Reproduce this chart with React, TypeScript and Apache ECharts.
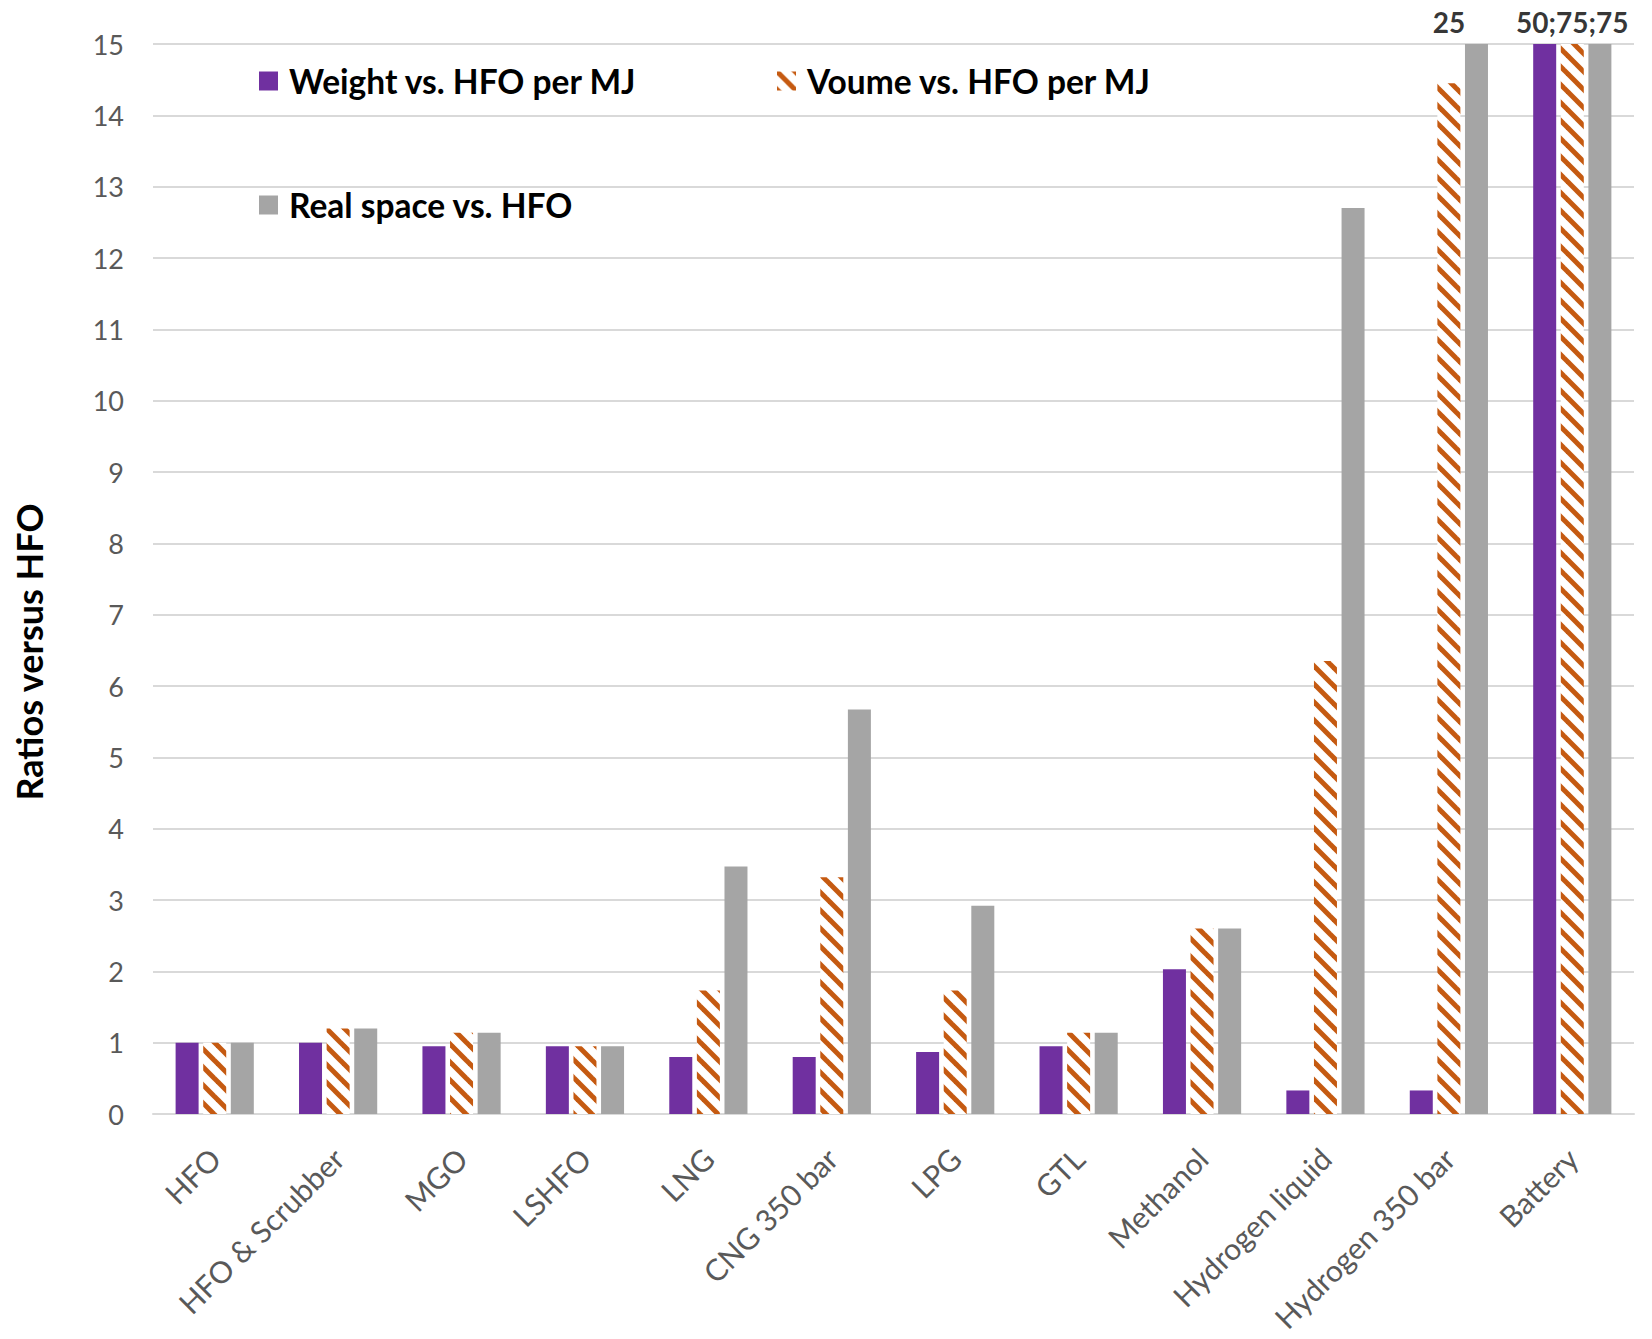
import React, { useEffect, useRef } from "react";
import * as echarts from "echarts";

// Fuel categories on the x axis
const categories = [
  "HFO",
  "HFO & Scrubber",
  "MGO",
  "LSHFO",
  "LNG",
  "CNG 350 bar",
  "LPG",
  "GTL",
  "Methanol",
  "Hydrogen liquid",
  "Hydrogen 350 bar",
  "Battery",
];

const seriesNames = [
  "Weight vs. HFO per MJ",
  "Voume vs. HFO per MJ",
  "Real space vs. HFO",
];

// Ratios versus HFO
const weightVsHfo = [1, 1, 0.95, 0.95, 0.8, 0.8, 0.87, 0.95, 2.03, 0.33, 0.33, 50];
const volumeVsHfo = [1, 1.2, 1.14, 0.95, 1.73, 3.32, 1.73, 1.14, 2.6, 6.35, 14.45, 75];
const realSpaceVsHfo = [1, 1.2, 1.14, 0.95, 3.47, 5.67, 2.92, 1.14, 2.6, 12.7, 25, 75];

// Value axis range
const yMin = 0;
const yMax = 15;
const yInterval = 1;

const FONT = "Lato";
const PURPLE = "#7030A0";
const ORANGE = "#C55A11";
const GREY = "#A5A5A5";
const LABEL_GREY = "#595959";
const GRID_GREY = "#D9D9D9";

function makeHatch(): HTMLCanvasElement {
  const s = 18;
  const c = document.createElement("canvas");
  c.width = s;
  c.height = s;
  const ctx = c.getContext("2d")!;
  ctx.fillStyle = "#ffffff";
  ctx.fillRect(0, 0, s, s);
  ctx.strokeStyle = ORANGE;
  ctx.lineWidth = 5;
  ctx.lineCap = "butt";
  for (const off of [-s, 0, s]) {
    ctx.beginPath();
    ctx.moveTo(off - 2, -2);
    ctx.lineTo(off + s + 2, s + 2);
    ctx.stroke();
  }
  return c;
}

export default function App() {
  const ref = useRef<HTMLDivElement>(null);

  useEffect(() => {
    if (!ref.current) return;
    const chart = echarts.init(ref.current, undefined, { renderer: "svg" });
    const hatch = makeHatch();

    // Values beyond the axis maximum are written above their category
    const overflow = categories.map((c, i) => {
      const vals = [weightVsHfo[i], volumeVsHfo[i], realSpaceVsHfo[i]].filter(
        (v) => v > yMax
      );
      return vals.length ? { value: [c, yMax], text: vals.join(";") } : null;
    });
    const overflowData = overflow.filter((d) => d !== null) as {
      value: [string, number];
      text: string;
    }[];

    const legendBase = {
      orient: "horizontal" as const,
      padding: 0,
      itemWidth: 19,
      itemHeight: 19,
      icon: "rect",
      selectedMode: false,
      textStyle: {
        fontFamily: FONT,
        fontWeight: "bold" as const,
        fontSize: 33.5,
        color: "#000",
        padding: [0, 0, 0, 6],
      },
    };

    chart.setOption({
      animation: false,
      backgroundColor: "#ffffff",
      textStyle: { fontFamily: FONT },
      grid: { left: 153, right: 18, top: 44, bottom: 225, containLabel: false },
      legend: [
        { ...legendBase, left: 259, top: 64, data: [seriesNames[0]] },
        { ...legendBase, left: 777, top: 64, data: [seriesNames[1]] },
        { ...legendBase, left: 259, top: 188, data: [seriesNames[2]] },
      ],
      xAxis: {
        type: "category",
        data: categories,
        axisTick: { show: false },
        axisLine: { lineStyle: { color: GRID_GREY, width: 2 } },
        axisLabel: {
          rotate: 45,
          interval: 0,
          margin: 39,
          fontFamily: FONT,
          fontSize: 30,
          color: LABEL_GREY,
        },
      },
      yAxis: {
        type: "value",
        min: yMin,
        max: yMax,
        interval: yInterval,
        axisLine: { show: false },
        axisTick: { show: false },
        splitLine: { lineStyle: { color: GRID_GREY, width: 2 } },
        axisLabel: {
          margin: 29,
          fontFamily: FONT,
          fontSize: 27,
          color: LABEL_GREY,
        },
      },
      series: [
        {
          name: seriesNames[0],
          type: "bar",
          data: weightVsHfo,
          barWidth: 23,
          barGap: "20%",
          itemStyle: { color: PURPLE },
        },
        {
          name: seriesNames[1],
          type: "bar",
          data: volumeVsHfo,
          barWidth: 23,
          barGap: "20%",
          itemStyle: { color: { image: hatch, repeat: "repeat" } },
        },
        {
          name: seriesNames[2],
          type: "bar",
          data: realSpaceVsHfo,
          barWidth: 23,
          barGap: "20%",
          itemStyle: { color: GREY },
        },
        {
          name: "overflow",
          type: "scatter",
          symbolSize: 1,
          itemStyle: { color: "rgba(0,0,0,0)" },
          data: overflowData.map((d) => ({ value: d.value, text: d.text })),
          label: {
            show: true,
            position: "top",
            distance: 8,
            fontFamily: FONT,
            fontWeight: "bold",
            fontSize: 28,
            color: "#000",
            formatter: (p: any) => p.data.text,
          },
          silent: true,
          z: 10,
        },
      ],
      graphic: [
        {
          type: "text",
          x: 29,
          y: 652,
          rotation: Math.PI / 2,
          style: {
            text: "Ratios versus HFO",
            fontFamily: FONT,
            fontWeight: "bold",
            fontSize: 36,
            fill: "#000",
            textAlign: "center",
            textVerticalAlign: "middle",
          },
        },
      ],
    });

    return () => chart.dispose();
  }, []);

  return (
    <div
      ref={ref}
      style={{ position: "fixed", left: 0, top: 0, width: 1652, height: 1339 }}
    />
  );
}
